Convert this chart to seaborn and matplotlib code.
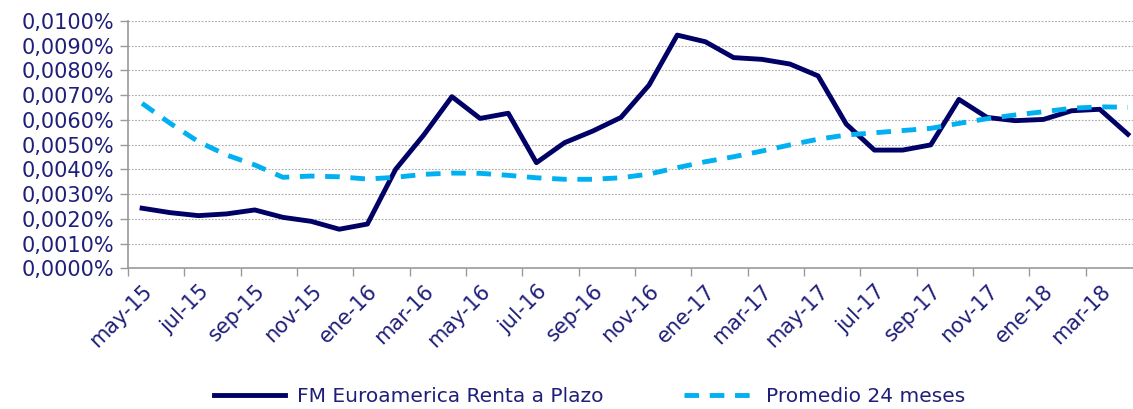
import numpy as np
import pandas as pd
import matplotlib
matplotlib.use('Agg')
import matplotlib.pyplot as plt
import seaborn as sns
from matplotlib.ticker import FuncFormatter, MultipleLocator

# monthly data, may-15 .. abr-18 (values in %)
months = ['may-15', 'jun-15', 'jul-15', 'ago-15', 'sep-15', 'oct-15', 'nov-15', 'dic-15',
          'ene-16', 'feb-16', 'mar-16', 'abr-16', 'may-16', 'jun-16', 'jul-16', 'ago-16',
          'sep-16', 'oct-16', 'nov-16', 'dic-16', 'ene-17', 'feb-17', 'mar-17', 'abr-17',
          'may-17', 'jun-17', 'jul-17', 'ago-17', 'sep-17', 'oct-17', 'nov-17', 'dic-17',
          'ene-18', 'feb-18', 'mar-18', 'abr-18']

fondo = [0.00243, 0.00225, 0.00213, 0.00220, 0.00236, 0.00206, 0.00190, 0.00158,
         0.00179, 0.00400, 0.00539, 0.00694, 0.00606, 0.00627, 0.00427, 0.00508,
         0.00555, 0.00610, 0.00741, 0.00943, 0.00916, 0.00852, 0.00845, 0.00826,
         0.00778, 0.00583, 0.00478, 0.00478, 0.00499, 0.00683, 0.00610, 0.00597,
         0.00602, 0.00637, 0.00643, 0.00542]

promedio = [0.00667, 0.00586, 0.00512, 0.00458, 0.00418, 0.00368, 0.00373, 0.00370,
            0.00361, 0.00368, 0.00380, 0.00385, 0.00384, 0.00376, 0.00366, 0.00360,
            0.00360, 0.00366, 0.00381, 0.00407, 0.00431, 0.00451, 0.00474, 0.00499,
            0.00522, 0.00539, 0.00548, 0.00557, 0.00566, 0.00586, 0.00605, 0.00620,
            0.00633, 0.00647, 0.00653, 0.00651]

serie_fondo = 'FM Euroamerica Renta a Plazo'
serie_prom = 'Promedio 24 meses'

df = pd.DataFrame({'mes': np.arange(len(months)),
                   serie_fondo: fondo,
                   serie_prom: promedio})

text_color = '#1F1F7A'
grey = '#9A9A9A'

fig = plt.figure(figsize=(11.33, 4.09), dpi=100)
ax = fig.add_axes([128 / 1133, 140.7 / 409, 1014 / 1133, 247.3 / 409])

sns.lineplot(data=df, x='mes', y=serie_fondo, ax=ax, color='#000066',
             linewidth=3.5, label=serie_fondo)
sns.lineplot(data=df, x='mes', y=serie_prom, ax=ax, color='#00B0F0',
             linewidth=3.5, linestyle=(0, (3, 2.2)), label=serie_prom)

ax.set_xlim(-0.5, len(months) - 0.5)
ax.set_ylim(0, 0.0100)
ax.yaxis.set_major_locator(MultipleLocator(0.0010))
ax.yaxis.set_major_formatter(FuncFormatter(lambda v, p: f'{v:.4f}'.replace('.', ',') + '%'))

# category labels every 2 months, tick marks between categories
ax.set_xticks(np.arange(0, len(months), 2))
ax.set_xticklabels(months[::2], rotation=45, ha='right', va='top',
                   rotation_mode='anchor')
ax.set_xticks(np.arange(-0.5, len(months), 2), minor=True)
ax.tick_params(axis='x', which='major', length=0, pad=9, labelsize=15,
               labelcolor=text_color)
ax.tick_params(axis='x', which='minor', length=6, color=grey, width=1)
ax.tick_params(axis='y', length=6, color=grey, width=1, labelsize=15,
               labelcolor=text_color, pad=4)

ax.grid(axis='y', color='#A8A8A8', linestyle=(0, (1.5, 1.5)), linewidth=0.8)
ax.set_axisbelow(True)
for side in ['top', 'right']:
    ax.spines[side].set_visible(False)
for side in ['left', 'bottom']:
    ax.spines[side].set_color(grey)
    ax.spines[side].set_linewidth(1.2)

ax.set_xlabel('')
ax.set_ylabel('')

leg = ax.legend(loc='center', bbox_to_anchor=(590 / 1133, 12 / 409),
                bbox_transform=fig.transFigure, ncol=2, frameon=False,
                fontsize=14.5, handlelength=3.5, columnspacing=4.0,
                handletextpad=0.6)
for t in leg.get_texts():
    t.set_color(text_color)

fig.savefig('out.png', dpi=100)
